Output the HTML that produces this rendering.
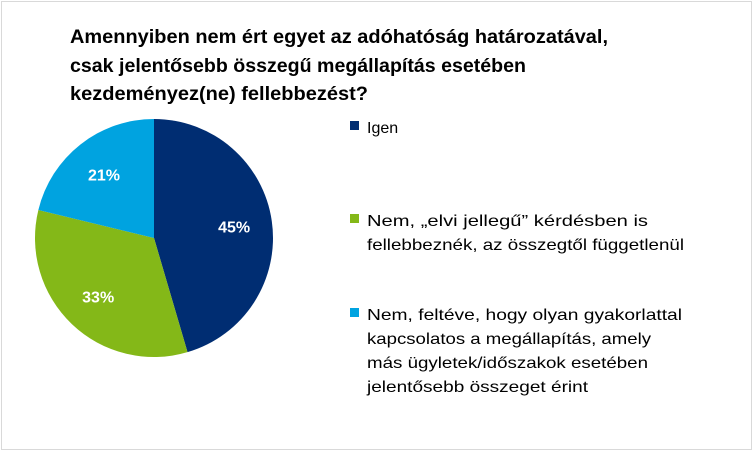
<!DOCTYPE html>
<html><head><meta charset="utf-8"><style>
body{margin:0;background:#fff}
svg{display:block;font-family:"Liberation Sans",sans-serif}
</style></head><body>
<svg id="c" width="753" height="451" viewBox="0 0 753 451">
<rect x="1.5" y="1.5" width="750" height="448" fill="#fff" stroke="#d9d9d9"/>
<g font-weight="bold" font-size="19" fill="#000">
<text x="70" y="43" textLength="538" lengthAdjust="spacingAndGlyphs">Amennyiben nem ért egyet az adóhatóság  határozatával,</text>
<text x="70" y="72" textLength="456" lengthAdjust="spacingAndGlyphs">csak jelentősebb összegű megállapítás esetében</text>
<text x="70" y="100" textLength="298" lengthAdjust="spacingAndGlyphs">kezdeményez(ne) fellebbezést?</text>
</g>
<g id="slices"></g>
<g id="labels" font-size="16" font-weight="bold" fill="#fff"></g>
<g font-size="16" fill="#000">
<g>
<rect x="350" y="121" width="9" height="9" fill="#002d72"/>
<text x="367" y="133">Igen</text></g>
<g>
<rect x="350" y="214" width="9" height="9" fill="#84b818"/>
<text x="367" y="226" textLength="281" lengthAdjust="spacingAndGlyphs">Nem, „elvi jellegű”  kérdésben is</text>
<text x="367" y="250" textLength="317" lengthAdjust="spacingAndGlyphs">fellebbeznék, az összegtől függetlenül</text></g>
<g>
<rect x="350" y="308" width="9" height="9" fill="#00a3e0"/>
<text x="367" y="320" textLength="315" lengthAdjust="spacingAndGlyphs">Nem, feltéve, hogy olyan gyakorlattal</text>
<text x="367" y="344" textLength="284" lengthAdjust="spacingAndGlyphs">kapcsolatos a megállapítás, amely</text>
<text x="367" y="368" textLength="281" lengthAdjust="spacingAndGlyphs">más ügyletek/időszakok esetében</text>
<text x="367" y="392" textLength="221" lengthAdjust="spacingAndGlyphs">jelentősebb összeget érint</text></g>
</g>
</svg>
<script>
const categories=["Igen","Nem, elvi jellegű","Nem, gyakorlat"];
const values=[45,33,21];
const valueLabels=["45%","33%","21%"];
const colors=["#002d72","#84b818","#00a3e0"];
const cx=154,cy=238,r=119;
const total=values.reduce((a,b)=>a+b,0);
const ns="http://www.w3.org/2000/svg";
const gs=document.getElementById("slices"),gl=document.getElementById("labels");
function pt(a,rr){return [cx+rr*Math.sin(a),cy-rr*Math.cos(a)];}
let a0=0;
values.forEach((v,i)=>{
  const a1=a0+v/total*2*Math.PI;
  const p0=pt(a0,r),p1=pt(a1,r);
  const large=(a1-a0)>Math.PI?1:0;
  const p=document.createElementNS(ns,"path");
  p.setAttribute("d",`M${cx},${cy}L${p0[0]},${p0[1]}A${r},${r} 0 ${large} 1 ${p1[0]},${p1[1]}Z`);
  p.setAttribute("fill",colors[i]);
  
  
  gs.appendChild(p);
  const m=(a0+a1)/2,lp=pt(m,r*0.68);
  const t=document.createElementNS(ns,"text");
  t.setAttribute("x",lp[0]);t.setAttribute("y",lp[1]+6);
  t.setAttribute("text-anchor","middle");
  t.textContent=valueLabels[i];
  
  
  gl.appendChild(t);
  a0=a1;
});
</script>
</body></html>
